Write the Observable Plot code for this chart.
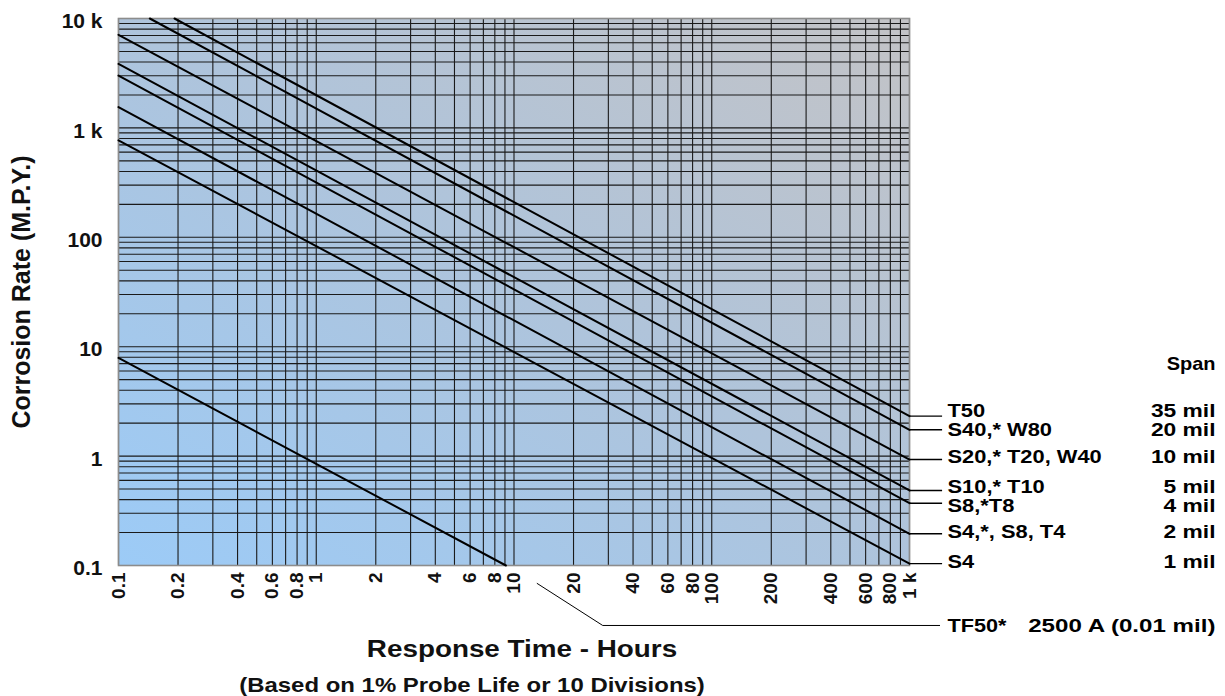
<!DOCTYPE html>
<html><head><meta charset="utf-8">
<script src="https://cdn.jsdelivr.net/npm/d3@7"></script>
<script src="https://cdn.jsdelivr.net/npm/@observablehq/plot@0.6"></script>
<style>body{margin:0;background:#fff;}</style>
</head><body><div id="chart"></div>
<script>
// ---- data ----
const seriesNames  = ["T50","S40","S20","S10","S8","S4b","S4","TF50"];
const seriesLabels = ["T50","S40,* W80","S20,* T20, W40","S10,* T10","S8,*T8","S4,*, S8, T4","S4","TF50*"];
const spanLabels   = ["35 mil","20 mil","10 mil","5 mil","4 mil","2 mil","1 mil","2500 A (0.01 mil)"];
const startHours   = [0.192, 0.144, 0.1, 0.1, 0.1, 0.1, 0.1, 0.1];
const startRate    = [10000, 10000, 7100, 3850, 3010, 1550, 770, 7.9];
const endHours     = [1000, 1000, 1000, 1000, 1000, 1000, 1000, 9.1];
const endRate      = [2.32, 1.74, 0.93, 0.485, 0.371, 0.195, 0.104, 0.1];
const xTickValues  = [0.1,0.2,0.4,0.6,0.8,1,2,4,6,8,10,20,40,60,80,100,200,400,600,800,1000];
const xTickLabels  = ["0.1","0.2","0.4","0.6","0.8","1","2","4","6","8","10","20","40","60","80","100","200","400","600","800","1 k"];
const yTickValues  = [0.1,1,10,100,1000,10000];
const yTickLabels  = ["0.1","1","10","100","1 k","10 k"];
const yTitle = "Corrosion Rate (M.P.Y.)";
const xTitle = "Response Time - Hours";
const xSubtitle = "(Based on 1% Probe Life or 10 Divisions)";
const spanHeader = "Span";

// ---- derived tables ----
const segs = [];
seriesNames.forEach((n, i) => {
  segs.push({name: n, h: startHours[i], r: startRate[i]});
  segs.push({name: n, h: endHours[i], r: endRate[i]});
});
const rightRows = seriesNames.slice(0, 7).map((n, i) => ({name: n, label: seriesLabels[i], span: spanLabels[i], r: endRate[i]}));
const tf = {label: seriesLabels[7], span: spanLabels[7]};

// log grid positions (1..9 per decade)
const gridX = [], gridY = [];
for (let e = -1; e <= 3; e++) for (let m = 1; m <= 9; m++) { const v = m * 10 ** e; if (v >= 0.1 && v <= 1000.001) gridX.push(+v.toPrecision(6)); }
for (let e = -1; e <= 4; e++) for (let m = 1; m <= 9; m++) { const v = m * 10 ** e; if (v >= 0.1 && v <= 10000.001) gridY.push(+v.toPrecision(6)); }

const FONT = "Liberation Sans, Arial, Helvetica, sans-serif";
const leaderEnd = 1470;           // hours, just past the frame
const tfRate = 0.0283;            // rate level of the TF50 leader, below the axis
const tfLeader = [{h: 13.1, r: 0.0685}, {h: 28.1, r: tfRate}, {h: 1420, r: tfRate}];
const nudge = {T50: -5, S40: 0, S20: -3, S10: -4, S8: 3, S4b: -2, S4: -2};

const labelMarks = rightRows.map(row =>
  Plot.text([row], {x: 1000, y: "r", text: "label", dx: 38, dy: nudge[row.name], textAnchor: "start",
    fontSize: 19, fontWeight: "bold", fill: "#000", ariaDescription: "stretch:1.15"}));
const spanMarks = rightRows.map(row =>
  Plot.text([row], {x: 1000, y: "r", text: "span", dx: 306, dy: nudge[row.name], textAnchor: "end",
    fontSize: 19, fontWeight: "bold", fill: "#000", ariaDescription: "stretch:1.2"}));

const chart = Plot.plot({
  width: 1225, height: 696,
  marginLeft: 118, marginRight: 316, marginTop: 18, marginBottom: 131,
  x: {type: "log", domain: [0.1, 1000], axis: null},
  y: {type: "log", domain: [0.1, 10000], axis: null},
  style: {fontFamily: FONT, fontWeight: "bold", color: "#111", background: "#fff"},
  marks: [
    Plot.frame({fill: "url(#bg)", stroke: "none"}),
    Plot.ruleX(gridX, {stroke: "#1a1a1a", strokeWidth: 1.1}),
    Plot.ruleY(gridY, {stroke: "#1a1a1a", strokeWidth: 1.1}),
    Plot.frame({stroke: "#8c8c8c", strokeWidth: 1.6}),
    Plot.line(segs, {x: "h", y: "r", z: "name", stroke: "#000", strokeWidth: 2}),
    // right-side leaders and labels
    Plot.ruleY(rightRows, {y: "r", x1: 1000, x2: leaderEnd, stroke: "#000", strokeWidth: 1.4}),
    ...labelMarks,
    ...spanMarks,
    Plot.text([spanHeader], {x: 1000, y: 7, text: d => d, dx: 306, textAnchor: "end", fontSize: 19, fontWeight: "bold", fill: "#000", ariaDescription: "stretch:1.05"}),
    // TF50 leader below the axis
    Plot.line(tfLeader, {x: "h", y: "r", stroke: "#000", strokeWidth: 1}),
    Plot.text([tf], {x: 1000, y: tfRate, text: "label", dx: 38, textAnchor: "start", fontSize: 19, fontWeight: "bold", fill: "#000", ariaDescription: "stretch:1.14"}),
    Plot.text([tf], {x: 1000, y: tfRate, text: "span", dx: 306, textAnchor: "end", fontSize: 19, fontWeight: "bold", fill: "#000", ariaDescription: "stretch:1.27"}),
    // y tick labels
    Plot.text(yTickValues, {y: d => d, frameAnchor: "left", dx: -16, dy: 3, textAnchor: "end",
      text: (d, i) => yTickLabels[i], fontSize: 21, fontWeight: "bold", fill: "#111"}),
    // x tick labels (rotated)
    Plot.text(xTickValues, {x: d => d, frameAnchor: "bottom", dx: 6, dy: 7, rotate: -90, textAnchor: "end",
      text: (d, i) => xTickLabels[i], fontSize: 19, fontWeight: "bold", fill: "#111"}),
    // titles
    Plot.text([yTitle], {frameAnchor: "left", dx: -97, rotate: -90, textAnchor: "middle", text: d => d, fontSize: 25, fontWeight: "bold", fill: "#111"}),
    Plot.text([xTitle], {frameAnchor: "bottom", dx: 8, dy: 91, textAnchor: "middle", text: d => d, fontSize: 23, fontWeight: "bold", fill: "#111", ariaDescription: "stretch:1.21"}),
    Plot.text([xSubtitle], {frameAnchor: "bottom", dx: -42, dy: 126, textAnchor: "middle", text: d => d, fontSize: 21, fontWeight: "bold", fill: "#111", ariaDescription: "stretch:1.14"})
  ]
});

// gradient background for the plotting frame
d3.select(chart).insert("defs", ":first-child").html(
  `<linearGradient id="bg" x1="0" y1="1" x2="1" y2="0">
     <stop offset="0" stop-color="#9ccbf7"/>
     <stop offset="0.5" stop-color="#aec4dc"/>
     <stop offset="1" stop-color="#c3c3c6"/>
   </linearGradient>`);

document.getElementById("chart").append(chart);

// the reference lettering is a little wider than the font: widen those texts horizontally
d3.select(chart).selectAll("g[aria-description^='stretch']").each(function() {
  const f = +this.getAttribute("aria-description").split(":")[1];
  d3.select(this).selectAll("text").each(function() {
    const w = this.getComputedTextLength();
    if (w > 0) {
      this.setAttribute("textLength", (w * f).toFixed(1));
      this.setAttribute("lengthAdjust", "spacingAndGlyphs");
    }
  });
});
</script>
</body></html>
